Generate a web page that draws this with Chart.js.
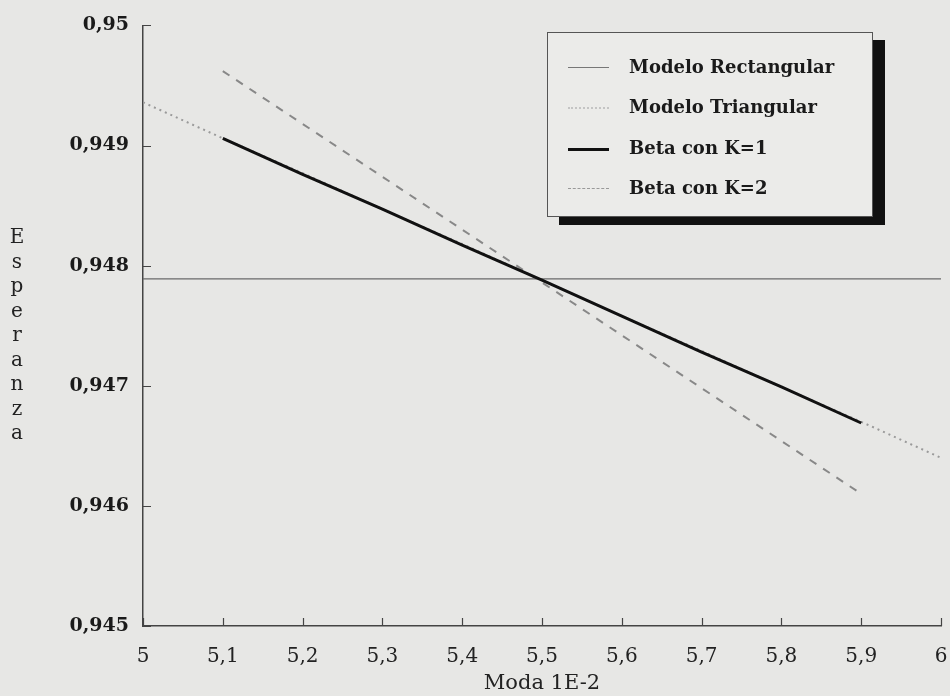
<!DOCTYPE html>
<html>
<head>
<meta charset="utf-8">
<script src="https://cdn.jsdelivr.net/npm/chart.js@4/dist/chart.umd.min.js"></script>
<style>
  body { margin: 0; background: #e7e7e5; }
  #wrap { position: relative; width: 950px; height: 696px; }
  #yTitle {
    position: absolute; left: 6px; top: 224px; width: 22px;
    font: 20px "DejaVu Serif"; line-height: 24.5px; text-align: center; color: #222;
  }
  #legend {
    position: absolute; left: 547px; top: 32px; width: 324px; height: 183px;
    border: 1px solid #555; background: #ebebe9; box-shadow: 12px 8px 0 #111;
  }
  .row { position: absolute; left: 0; height: 24px; width: 100%; }
  .row .smp { position: absolute; left: 20px; top: 11px; width: 41px; }
  .row .txt {
    position: absolute; left: 81px; top: 0; line-height: 24px;
    font: bold 18px "DejaVu Serif"; color: #1a1a1a; white-space: nowrap;
  }
</style>
</head>
<body>
<div id="wrap">
  <canvas id="myChart" width="950" height="696"></canvas>
  <div id="yTitle">E<br>s<br>p<br>e<br>r<br>a<br>n<br>z<br>a</div>
  <div id="legend">
    <div class="row" style="top:23px"><div class="smp" style="border-top:1px solid #777"></div><div class="txt">Modelo Rectangular</div></div>
    <div class="row" style="top:63px"><div class="smp" style="border-top:2px dotted #c4c4c4"></div><div class="txt">Modelo Triangular</div></div>
    <div class="row" style="top:104px"><div class="smp" style="border-top:3px solid #111"></div><div class="txt">Beta con K=1</div></div>
    <div class="row" style="top:144px"><div class="smp" style="border-top:1px dashed #999"></div><div class="txt">Beta con K=2</div></div>
  </div>
</div>
<script>
// values
var rectX = [5, 6];
var rectY = [0.94789, 0.94789];

var triX = [5, 5.1, 5.2, 5.3, 5.4, 5.5, 5.6, 5.7, 5.8, 5.9, 6];
var triY = [0.94936, 0.94906, 0.94877, 0.94847, 0.94818, 0.94788, 0.94758, 0.94729, 0.94699, 0.9467, 0.9464];

var betaX = [5.1, 5.2, 5.3, 5.4, 5.5, 5.6, 5.7, 5.8, 5.9];
var beta1Y = [0.94906, 0.94876, 0.94847, 0.94817, 0.94788, 0.94758, 0.94728, 0.94699, 0.94669];
var beta2Y = [0.94962, 0.94918, 0.94874, 0.9483, 0.94786, 0.94742, 0.94698, 0.94654, 0.9461];

function pts(xs, ys) {
  return xs.map(function (x, i) { return { x: x, y: ys[i] }; });
}

function fmt(v) {
  return String(Number(v.toFixed(4))).replace(".", ",");
}

// small ticks pointing into the plot
const innerTicks = {
  id: "innerTicks",
  afterDraw(chart) {
    const { ctx, chartArea, scales } = chart;
    ctx.save();
    ctx.strokeStyle = "#444";
    ctx.lineWidth = 1.2;
    ctx.beginPath();
    scales.x.ticks.forEach(function (t, i) {
      const px = Math.round(scales.x.getPixelForTick(i)) + 0.5;
      ctx.moveTo(px, chartArea.bottom);
      ctx.lineTo(px, chartArea.bottom - 8);
    });
    scales.y.ticks.forEach(function (t, i) {
      const py = Math.round(scales.y.getPixelForTick(i)) + 0.5;
      ctx.moveTo(chartArea.left, py);
      ctx.lineTo(chartArea.left + 8, py);
    });
    ctx.stroke();
    ctx.restore();
  },
};

const ctx = document.getElementById("myChart").getContext("2d");
const myChart = new Chart(ctx, {
  type: "line",
  data: {
    datasets: [
      {
        label: "Beta con K=1",
        data: pts(betaX, beta1Y),
        borderColor: "#111",
        borderWidth: 3,
        order: 0,
      },
      {
        label: "Beta con K=2",
        data: pts(betaX, beta2Y),
        borderColor: "#888",
        borderWidth: 2,
        borderDash: [8, 8],
        order: 1,
      },
      {
        label: "Modelo Rectangular",
        data: pts(rectX, rectY),
        borderColor: "#6a6a6a",
        borderWidth: 1.2,
        order: 2,
      },
      {
        label: "Modelo Triangular",
        data: pts(triX, triY),
        borderColor: "#9a9a9a",
        borderWidth: 2,
        borderDash: [2, 4],
        order: 3,
      },
    ],
  },
  options: {
    responsive: false,
    animation: false,
    elements: {
      point: { radius: 0, hoverRadius: 0 },
      line: { tension: 0 },
    },
    layout: {
      padding: { top: 8, right: 0, left: 0, bottom: 0 },
    },
    scales: {
      x: {
        type: "linear",
        min: 5,
        max: 6,
        afterFit: function (scale) {
          scale.height = 70;
          scale.paddingLeft = 0;
          scale.paddingRight = 9;
        },
        border: { color: "#444", width: 1.5 },
        grid: { drawOnChartArea: false, drawTicks: false },
        ticks: {
          stepSize: 0.1,
          padding: 19,
          color: "#222",
          font: { family: "DejaVu Serif", size: 20 },
          callback: function (value) { return fmt(value); },
        },
        title: {
          display: true,
          text: "Moda 1E-2",
          color: "#222",
          padding: { top: 0, bottom: 0 },
          font: { family: "DejaVu Serif", size: 21 },
        },
      },
      y: {
        type: "linear",
        min: 0.945,
        max: 0.95,
        afterFit: function (scale) { scale.width = 143; },
        border: { color: "#444", width: 1.5 },
        grid: { drawOnChartArea: false, drawTicks: false },
        ticks: {
          stepSize: 0.001,
          padding: 14,
          color: "#1a1a1a",
          font: { family: "DejaVu Serif", size: 19, weight: "bold" },
          callback: function (value) { return fmt(value); },
        },
      },
    },
    plugins: {
      legend: { display: false },
      tooltip: { enabled: false },
    },
  },
  plugins: [innerTicks],
});
</script>
</body>
</html>
